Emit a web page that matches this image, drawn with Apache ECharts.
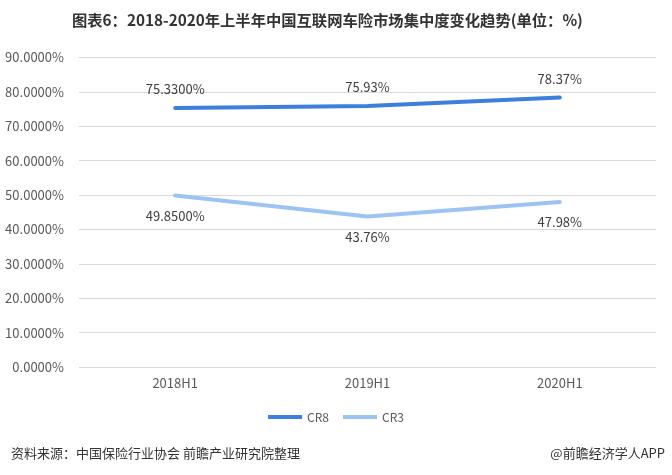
<!DOCTYPE html>
<html><head><meta charset="utf-8">
<script src="https://cdn.jsdelivr.net/npm/echarts@6/dist/echarts.min.js"></script>
<style>html,body{margin:0;padding:0;background:#fff}#c{width:672px;height:475px}</style>
</head><body><div id="c"></div>
<script>
const categories = ['2018H1', '2019H1', '2020H1'];
const cr8Values = [75.33, 75.93, 78.37];
const cr3Values = [49.85, 43.76, 47.98];
const cr8Labels = ['75.3300%', '75.93%', '78.37%'];
const cr3Labels = ['49.8500%', '43.76%', '47.98%'];
const yTicks = [0, 10, 20, 30, 40, 50, 60, 70, 80, 90];

const chart = echarts.init(document.getElementById('c'));
const font = '"Microsoft YaHei","Noto Sans CJK SC",sans-serif';
chart.setOption({
  animation: false,
  textStyle: { fontFamily: font },
  title: [{
    text: '图表6：2018-2020年上半年中国互联网车险市场集中度变化趋势(单位：%)',
    left: 67, top: 8,
    textStyle: { fontSize: 15.3, fontWeight: 'bold', color: '#333', fontFamily: font }
  }, {
    text: '资料来源：中国保险行业协会 前瞻产业研究院整理',
    left: 6, top: 442,
    textStyle: { fontSize: 13, fontWeight: 'normal', color: '#333', fontFamily: font }
  }, {
    text: '@前瞻经济学人APP',
    right: 2, top: 442,
    textStyle: { fontSize: 13, fontWeight: 'normal', color: '#333', fontFamily: font }
  }],
  legend: {
    data: ['CR8', 'CR3'], top: 406, left: 'center',
    itemWidth: 34, itemHeight: 4, itemGap: 14,
    icon: 'rect',
    textStyle: { fontSize: 12, color: '#595959' }
  },
  grid: { left: 79, right: 16, top: 57.5, bottom: 108 },
  xAxis: {
    type: 'category', data: categories,
    axisLine: { show: false }, axisTick: { show: false },
    axisLabel: { color: '#595959', fontSize: 13, margin: 10 }
  },
  yAxis: {
    type: 'value', min: 0, max: 90, interval: 10,
    axisLabel: { color: '#595959', fontSize: 13, margin: 15,
      formatter: v => yTicks.includes(v) ? v.toFixed(4) + '%' : '' },
    axisLine: { show: false }, axisTick: { show: false },
    splitLine: { lineStyle: { color: '#d9d9d9', width: 1 } }
  },
  series: [{
    name: 'CR8', type: 'line', data: cr8Values, symbol: 'circle', symbolSize: 0.01, showSymbol: true,
    lineStyle: { color: '#3c7fdd', width: 4, cap: 'round' },
    itemStyle: { color: '#3c7fdd' },
    label: { show: true, position: 'top', distance: 12, color: '#404040', fontSize: 13,
      formatter: p => cr8Labels[p.dataIndex] }
  }, {
    name: 'CR3', type: 'line', data: cr3Values, symbol: 'circle', symbolSize: 0.01, showSymbol: true,
    lineStyle: { color: '#9dc3f4', width: 4, cap: 'round' },
    itemStyle: { color: '#9dc3f4' },
    label: { show: true, position: 'bottom', distance: 14, color: '#404040', fontSize: 13,
      formatter: p => cr3Labels[p.dataIndex] }
  }]
});
</script></body></html>
